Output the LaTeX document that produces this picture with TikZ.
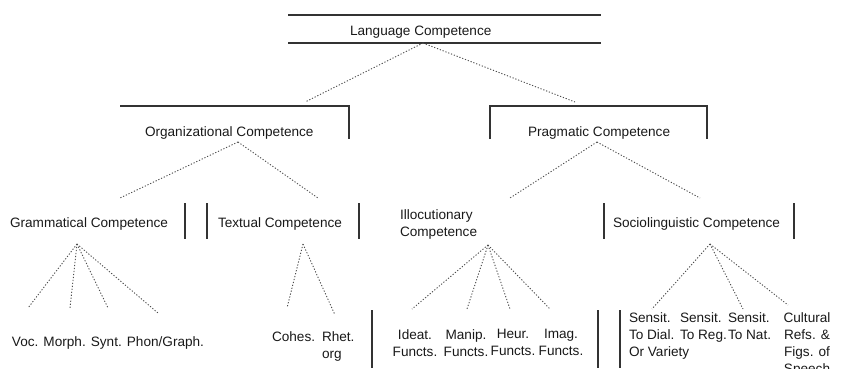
\documentclass[tikz,border=0pt]{standalone}
\usepackage{fontspec}
\setmainfont{Liberation Sans}
\begin{document}
\begin{tikzpicture}[x=1pt,y=-1pt,
  lbl/.style={inner sep=0pt,outer sep=0pt,font=\fontsize{13.6}{17}\selectfont,text=black!90},
  rule/.style={line width=1.4pt,draw=black!80},
  link/.style={line width=0.9pt,draw=black!70,dash pattern=on 1.2pt off 1.8pt}]
\useasboundingbox (0,0) rectangle (845,368);
% level 1
\node[lbl,anchor=base west] (lang) at (350,35) {Language Competence};
\draw[rule] (288,15) -- (601,15);
\draw[rule] (288,43) -- (601,43);
% level 2
\node[lbl,anchor=base west] (org) at (145,136) {Organizational Competence};
\node[lbl,anchor=base west] (prag) at (528,136) {Pragmatic Competence};
\draw[rule] (120,106) -- (349,106) -- (349,139);
\draw[rule] (490,139) -- (490,106) -- (707,106) -- (707,139);
% level 3
\node[lbl,anchor=base west] (gram) at (10,227) {Grammatical Competence};
\node[lbl,anchor=base west] (text) at (218,227) {Textual Competence};
\node[lbl,anchor=north west,align=left] (illoc) at (400,209.5) {Illocutionary\\Competence};
\node[lbl,anchor=base west] (socio) at (613,227) {Sociolinguistic Competence};
\foreach \x in {185,207,359,604,794} \draw[rule] (\x,203) -- (\x,239);
% level 4
\node[lbl,anchor=base west] (gramkids) at (12,346) {Voc. Morph. Synt. Phon/Graph.};
\node[lbl,anchor=base west] (cohes) at (272,341) {Cohes.};
\node[lbl,anchor=north west,align=left] (rhet) at (322,331.5) {Rhet.\\org};
\node[lbl,anchor=north,align=center] (ideat) at (415,329.5) {Ideat.\\Functs.};
\node[lbl,anchor=north,align=center] (manip) at (466,329.5) {Manip.\\Functs.};
\node[lbl,anchor=north,align=center] (heur) at (513,329.5) {Heur.\\Functs.};
\node[lbl,anchor=north,align=center] (imag) at (561,329.5) {Imag.\\Functs.};
\node[lbl,anchor=north west,align=left] (dial) at (629,312.5) {Sensit.\\To Dial.\\Or Variety};
\node[lbl,anchor=north west,align=left] (reg) at (680,312.5) {Sensit.\\To Reg.};
\node[lbl,anchor=north west,align=left] (nat) at (728,312.5) {Sensit.\\To Nat.};
\node[lbl,anchor=north,align=center] (cult) at (807,312.5) {Cultural\\Refs. \&\\Figs. of\\Speech};
\foreach \x in {372,598,620} \draw[rule] (\x,310) -- (\x,368);
% connector points
\coordinate (langA) at (423,43);
\coordinate (orgT) at (305,102);
\coordinate (pragT) at (575,102);
\coordinate (orgA) at (238,142);
\coordinate (gramT) at (120,198);
\coordinate (textT) at (318,198);
\coordinate (pragA) at (597,142);
\coordinate (illocT) at (510,198);
\coordinate (socioT) at (700,198);
\coordinate (gramA) at (77,244);
\coordinate (vocT) at (28,308);
\coordinate (morphT) at (70,308);
\coordinate (syntT) at (108,308);
\coordinate (phonT) at (158,313);
\coordinate (textA) at (303,244);
\coordinate (cohesT) at (287,308);
\coordinate (rhetT) at (335,315);
\coordinate (illocA) at (488,245);
\coordinate (ideatT) at (412,309);
\coordinate (manipT) at (467,309);
\coordinate (heurT) at (510,309);
\coordinate (imagT) at (550,309);
\coordinate (socioA) at (710,244);
\coordinate (dialT) at (652,309);
\coordinate (natT) at (743,309);
\coordinate (cultT) at (788,305);
% connectors
\draw[link] (langA) -- (orgT);
\draw[link] (langA) -- (pragT);
\draw[link] (orgA) -- (gramT);
\draw[link] (orgA) -- (textT);
\draw[link] (pragA) -- (illocT);
\draw[link] (pragA) -- (socioT);
\draw[link] (gramA) -- (vocT);
\draw[link] (gramA) -- (morphT);
\draw[link] (gramA) -- (syntT);
\draw[link] (gramA) -- (phonT);
\draw[link] (textA) -- (cohesT);
\draw[link] (textA) -- (rhetT);
\draw[link] (illocA) -- (ideatT);
\draw[link] (illocA) -- (manipT);
\draw[link] (illocA) -- (heurT);
\draw[link] (illocA) -- (imagT);
\draw[link] (socioA) -- (dialT);
\draw[link] (socioA) -- (natT);
\draw[link] (socioA) -- (cultT);
\end{tikzpicture}
\end{document}
